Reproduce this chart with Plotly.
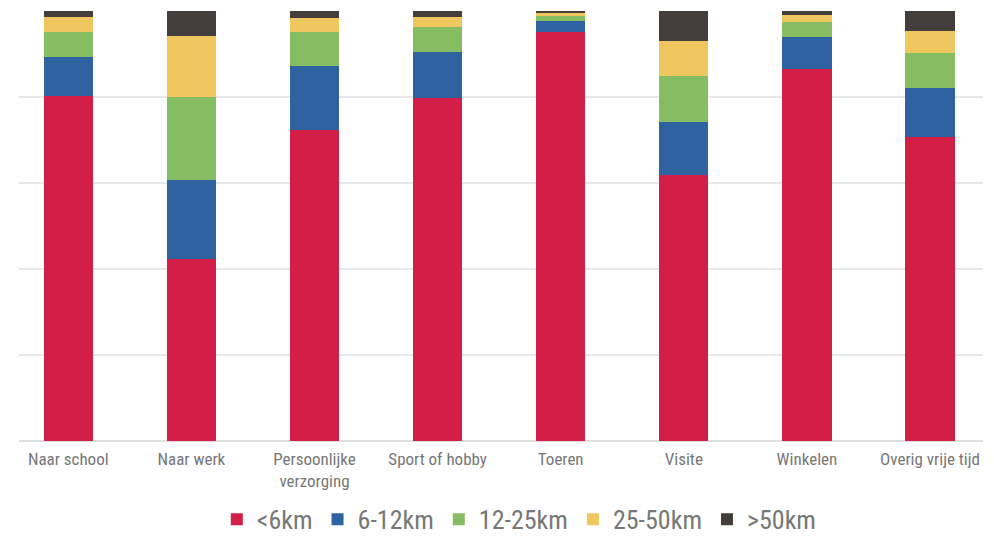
import plotly.graph_objects as go

categories = ["Naar school", "Naar werk", "Persoonlijke<br>verzorging", "Sport of hobby",
              "Toeren", "Visite", "Winkelen", "Overig vrije tijd"]
series_names = ["<6km", "6-12km", "12-25km", "25-50km", ">50km"]

lt6 = [80.3, 42.4, 72.4, 79.7, 95.2, 61.8, 86.4, 70.7]
km6_12 = [9.1, 18.4, 14.9, 10.7, 2.4, 12.4, 7.6, 11.5]
km12_25 = [5.7, 19.1, 7.9, 5.8, 1.3, 10.8, 3.5, 8.1]
km25_50 = [3.5, 14.4, 3.1, 2.4, 0.8, 8.0, 1.6, 5.1]
gt50 = [1.5, 5.7, 1.7, 1.5, 0.3, 7.0, 0.85, 4.6]

colors = ["#D31F48", "#2E62A1", "#86BC62", "#F0C75E", "#433E3B"]
values = [lt6, km6_12, km12_25, km25_50, gt50]

font_fam = "Roboto Condensed, Liberation Sans Narrow, Roboto, sans-serif"

fig = go.Figure()
for name, vals, col in zip(series_names, values, colors):
    fig.add_trace(go.Bar(
        x=list(range(len(categories))), y=vals, name=name,
        marker=dict(color=col, line=dict(width=0)),
        width=0.4,
    ))

fig.update_layout(
    barmode="stack",
    width=994, height=538,
    margin=dict(l=11, r=19, t=3, b=100),
    paper_bgcolor="white", plot_bgcolor="white",
    font=dict(family=font_fam, color="#777777"),
    xaxis=dict(
        tickmode="array", tickvals=list(range(len(categories))), ticktext=categories,
        range=[-0.4, 7.43], showgrid=False, showline=False, zeroline=False,
        tickfont=dict(size=17, color="#777777"), ticks="", automargin=False,
        ticklabelstandoff=6,
    ),
    yaxis=dict(
        range=[0, 100], dtick=20, showticklabels=False, showgrid=True,
        gridcolor="#e8e8e8", gridwidth=1.5, zeroline=True, zerolinecolor="#e0e0e0",
        zerolinewidth=1.5, automargin=False,
    ),
    legend=dict(
        orientation="h", x=0.519, xanchor="center", y=-0.182, yanchor="middle",
        font=dict(size=26, color="#777777"), traceorder="normal",
    ),
)

fig.write_html("out.html")
